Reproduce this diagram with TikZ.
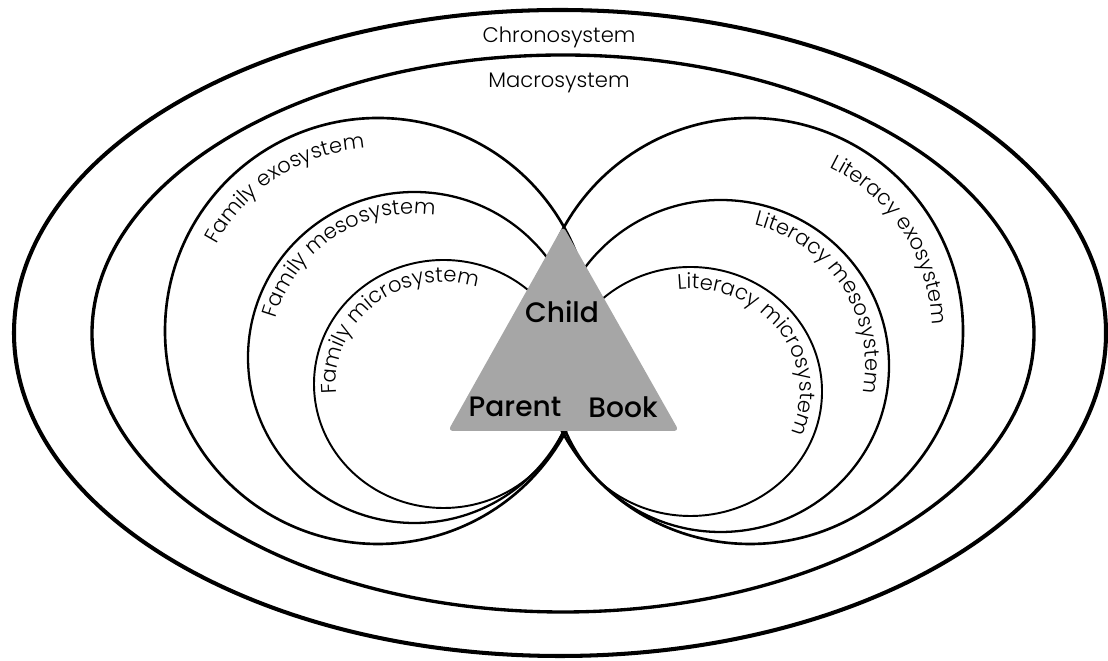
\documentclass[tikz,border=0pt]{standalone}
\usepackage{fontspec}
\setmainfont{Poppins Light}
\newfontfamily\headfont{Poppins Medium}
\usetikzlibrary{decorations.text}
\definecolor{trigray}{RGB}{166,166,166}

\begin{document}
\begin{tikzpicture}[x=0.02cm, y=0.02cm, font=\fontsize{12}{14}\selectfont,
  arclabel/.style={decorate, decoration={text along path, text align=center,
    text={|\fontsize{12}{14}\selectfont|#1}}}]
\useasboundingbox (0,0) rectangle (1108,661);
% chrono and macro
\draw[line width=2.3pt] (560,328) ellipse [x radius=546, y radius=323];
\draw[line width=1.9pt] (563,327.5) ellipse [x radius=471, y radius=278.5];
% family side
\draw[line width=1.5pt] (378,330) circle [radius=213];
\draw[line width=1.3pt] (414.4,303.5) ellipse [x radius=166.4, y radius=165.5];
\draw[line width=1.1pt] (443.5,277) ellipse [x radius=129.5, y radius=124];
% literacy side
\draw[line width=1.5pt] (750,330) circle [radius=213];
\draw[line width=1.3pt] (720.6,295) ellipse [x radius=168.4, y radius=166];
\draw[line width=1.1pt] (690.4,269.5) ellipse [x radius=131.6, y radius=124.5];
% triangle
\fill[trigray, rounded corners=3pt] (563,435) -- (448,230) -- (679,230) -- cycle;
\node[font=\headfont\fontsize{16}{18}\selectfont] (child) at (562,349) {Child};
\node[font=\headfont\fontsize{16}{18}\selectfont] (parent) at (515,254) {Parent};
\node[font=\headfont\fontsize{16}{18}\selectfont] (book) at (623,254) {Book};
% labels
\node (chrono) at (559,624) {Chronosystem};
\node (macro) at (559,578) {Macrosystem};
\path[arclabel=Family exosystem] (378,330) ++(193:183) arc[start angle=193, end angle=53, radius=183];
\path[arclabel=Family mesosystem] (414.4,303.5) ++(193:144) arc[start angle=193, end angle=53, radius=144];
\path[arclabel=Family microsystem] (443.5,277) ++(209:107.5 and 102) arc[start angle=209, end angle=49, x radius=107.5, y radius=102];
\path[arclabel=Literacy exosystem] (750,330) ++(103:182) arc[start angle=103, end angle=-37, radius=182];
\path[arclabel=Literacy mesosystem] (720.6,295) ++(103:145) arc[start angle=103, end angle=-37, radius=145];
\path[arclabel=Literacy microsystem] (690.4,269.5) ++(116:109.6 and 102.5) arc[start angle=116, end angle=-44, x radius=109.6, y radius=102.5];
\end{tikzpicture}
\end{document}
